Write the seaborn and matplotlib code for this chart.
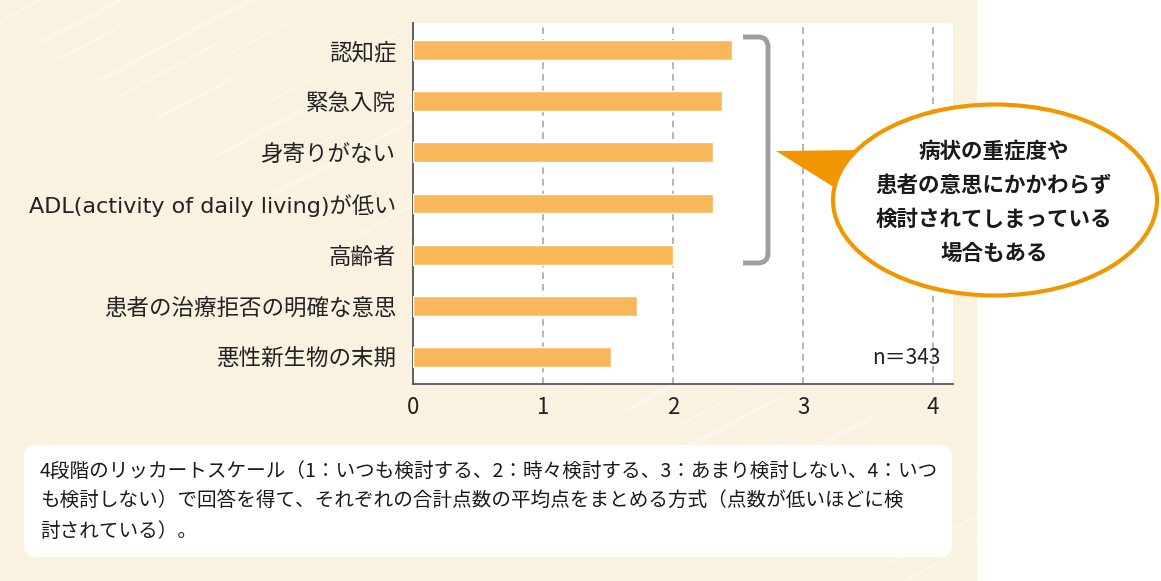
import matplotlib
matplotlib.use("Agg")
import matplotlib.pyplot as plt
import seaborn as sns
import pandas as pd
import numpy as np
from matplotlib.patches import Ellipse, Polygon, FancyBboxPatch, Rectangle, PathPatch
from matplotlib.path import Path

# ---------------- data ----------------
categories = ["認知症", "緊急入院", "身寄りがない",
              "ADL(activity of daily living)が低い", "高齢者",
              "患者の治療拒否の明確な意思", "悪性新生物の末期"]
values = [2.45, 2.38, 2.31, 2.31, 2.00, 1.72, 1.52]
x_ticks = [0, 1, 2, 3, 4]
n_label = "n＝343"
callout_lines = ["病状の重症度や", "患者の意思にかかわらず",
                 "検討されてしまっている", "場合もある"]
note_lines = [
    "4段階のリッカートスケール（1：いつも検討する、2：時々検討する、3：あまり検討しない、4：いつ",
    "も検討しない）で回答を得て、それぞれの合計点数の平均点をまとめる方式（点数が低いほどに検",
    "討されている）。",
]

# ---------------- style ----------------
sns.set_theme(style="white")
plt.rcParams['font.family'] = ['Noto Sans CJK JP', 'DejaVu Sans']

W, H = 1161, 581
fig = plt.figure(figsize=(W / 100, H / 100), dpi=100)
fig.patch.set_facecolor('white')

# background layer (pixel coordinates)
bg = fig.add_axes([0, 0, 1, 1], zorder=0)
bg.set_xlim(0, W)
bg.set_ylim(H, 0)
bg.axis('off')
bg.add_patch(Rectangle((0, 0), 977, H, color='#FAF2E1', lw=0))
# faint diagonal streaks
for k in range(34):
    x0 = (k * 157) % 1000 - 40
    y0 = (k * 97) % 620
    L = 60 + (k * 53) % 180
    ang = np.deg2rad(28)
    x1 = x0 + L * np.cos(ang)
    y1 = y0 - L * np.sin(ang)
    bg.plot([x0, x1], [y0, y1], color='white', alpha=0.35,
            lw=1.2 + (k % 3) * 0.8, solid_capstyle='round', clip_on=True)
bg.add_patch(Rectangle((977, 0), W - 977, H, color='white', lw=0))
# note box
bg.add_patch(FancyBboxPatch((24, 445), 928, 112,
                            boxstyle="round,pad=0,rounding_size=12",
                            fc='white', ec='none'))
for i, line in enumerate(note_lines):
    bg.text(40, 471 + i * 30, line, fontsize=14.1, va='center', ha='left',
            color='#1a1a1a')

# ---------------- main bar chart ----------------
ax = fig.add_axes([413 / W, (H - 384) / H, 540 / W, (384 - 23) / H], zorder=1)
ax.set_facecolor('white')
df = pd.DataFrame({"cat": categories, "val": values})
sns.barplot(data=df, x="val", y="cat", color="#F8B85A", saturation=1,
            width=0.39, ax=ax, zorder=3)
ax.set_xlim(0, 540 / 130)
ax.set_ylim(6.53, -0.53)
ax.set_xticks(x_ticks)
ax.set_xticklabels([str(t) for t in x_ticks])
ax.set_xlabel("")
ax.set_ylabel("")
ax.xaxis.grid(True, linestyle=(0, (4, 3)), color='#A8A8A8', lw=1.2)
ax.yaxis.grid(False)
ax.set_axisbelow(True)
for s in ['top', 'right']:
    ax.spines[s].set_visible(False)
for s in ['left', 'bottom']:
    ax.spines[s].set_color('#555555')
    ax.spines[s].set_linewidth(1.3)
ax.tick_params(axis='y', length=0, pad=12, labelsize=16.2, labelcolor='#222222')
ax.tick_params(axis='x', length=0, pad=9, labelsize=16, labelcolor='#222222')
for lbl in ax.get_yticklabels():
    if lbl.get_text().startswith("ADL"):
        lbl.set_family(['DejaVu Sans', 'Noto Sans CJK JP'])
        lbl.set_fontsize(16)

# ---------------- overlay annotations ----------------
ov = fig.add_axes([0, 0, 1, 1], zorder=2)
ov.set_xlim(0, W)
ov.set_ylim(H, 0)
ov.axis('off')
ov.patch.set_alpha(0)

# bracket
verts = [(743, 37), (758, 37), (768, 37), (768, 47), (768, 253),
         (768, 263), (758, 263), (743, 263)]
codes = [Path.MOVETO, Path.LINETO, Path.CURVE3, Path.CURVE3, Path.LINETO,
         Path.CURVE3, Path.CURVE3, Path.LINETO]
ov.add_patch(PathPatch(Path(verts, codes), fc='none', ec='#9E9E9E', lw=3.5,
                       capstyle='butt'))

# callout
orange = '#F29600'
ov.add_patch(Polygon([(776, 151), (862, 150), (848, 196)], closed=True,
                     fc=orange, ec='none', zorder=1))
ov.add_patch(Ellipse((995, 200), 324, 191, fc='white', ec=orange, lw=3,
                     zorder=2))
for i, line in enumerate(callout_lines):
    ov.text(994, 151 + i * 34, line, fontsize=15.5, fontweight='bold',
            ha='center', va='center', color='#1a1a1a', zorder=3)

ov.text(941, 358, n_label, fontsize=15, ha='right', va='center',
        color='#222222')

fig.savefig("out.png", dpi=100, facecolor=fig.get_facecolor())
